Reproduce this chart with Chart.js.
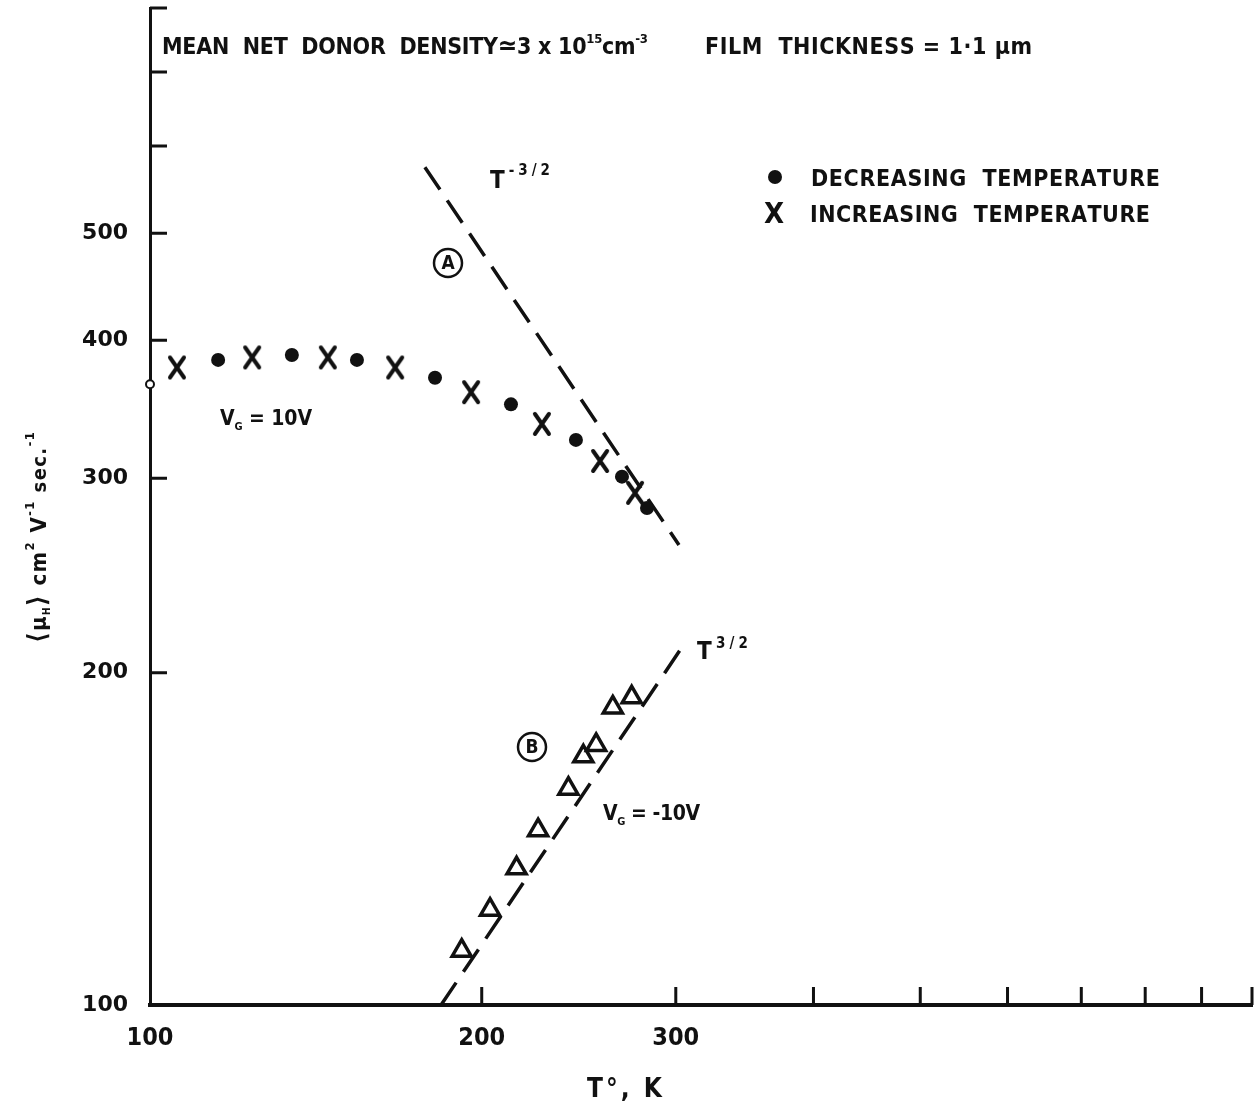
<!DOCTYPE html>
<html>
<head>
<meta charset="utf-8">
<title>Hall mobility vs temperature</title>
<script src="https://cdn.jsdelivr.net/npm/chart.js@4.4.1/dist/chart.umd.min.js"></script>
<style>
  html, body { margin: 0; padding: 0; background: #fff; }
  canvas { display: block; }
</style>
</head>
<body>
<canvas id="hall" width="1254" height="1111"></canvas>
<script>
// Hall mobility <mu_H> of the film against temperature, log-log
const INK = '#111';
const FACE = '"DejaVu Sans Condensed", "DejaVu Sans", sans-serif';

// V_G = 10V, decreasing temperature (filled dots)
const decT  = [115.3, 134.5, 154.1, 181.4, 212.6, 243.5, 268.1, 282.5];
const decMu = [384, 388, 384, 370, 350, 325, 301, 282];
// first reading, on the axis (small open circle)
const startT  = [100];
const startMu = [365];
// V_G = 10V, increasing temperature (crosses)
const incT  = [105.8, 123.8, 145.0, 166.9, 195.6, 226.8, 256.1, 275.5];
const incMu = [378, 386, 386, 378, 359, 336, 311, 291];
// V_G = -10V (triangles)
const negT  = [191.8, 203.5, 215.1, 225.0, 239.7, 247.3, 254.0, 263.0, 273.6];
const negMu = [112, 122, 133, 144, 157, 168, 172, 186, 190];
// guide lines: (A) T^-3/2 and (B) T^3/2
const fitAT  = [177.6, 302];
const fitAMu = [574, 261];
const fitBT  = [183.7, 305];
const fitBMu = [100, 212];

const xTicks  = [100, 200, 300, 400, 500, 600, 700, 800, 900, 1000];
const xLabels = [100, 200, 300];
const yTicks  = [100, 200, 300, 400, 500, 600, 700, 800];
const yLabels = [100, 200, 300, 400, 500];

const pts = (xs, ys) => xs.map((x, i) => ({ x, y: ys[i] }));
const font = (size) => `bold ${size}px ${FACE}`;

// hand-lettered X used for the increasing-temperature points
function crossMark() {
  const c = document.createElement('canvas');
  c.width = 22; c.height = 26;
  const g = c.getContext('2d');
  g.strokeStyle = INK; g.lineWidth = 4; g.lineCap = 'round';
  g.beginPath();
  g.moveTo(4, 3); g.lineTo(18, 23);
  g.moveTo(18, 3); g.lineTo(4, 23);
  g.stroke();
  return c;
}

// lay out text pieces (text, size, baseline shift) spread over a given width
function runs(ctx, parts, left, base, width) {
  const chars = [];
  parts.forEach(([t, size, shift = 0]) => {
    ctx.font = font(size);
    for (const ch of t) chars.push({ ch, size, shift, w: ctx.measureText(ch).width });
  });
  const natural = chars.reduce((s, c) => s + c.w, 0);
  const gap = width ? (width - natural) / (chars.length - 1) : 0;
  let x = left;
  chars.forEach(c => {
    ctx.font = font(c.size);
    ctx.fillText(c.ch, x, base + c.shift);
    x += c.w + gap;
  });
}

function circled(ctx, letter, cx, cy) {
  ctx.save();
  ctx.lineWidth = 2.5;
  ctx.beginPath(); ctx.arc(cx, cy, 14, 0, Math.PI * 2); ctx.stroke();
  ctx.font = font(19);
  ctx.textAlign = 'center'; ctx.textBaseline = 'middle';
  ctx.fillText(letter, cx, cy + 1);
  ctx.restore();
}

// tick marks drawn inward from both axes
const innerTicks = {
  id: 'innerTicks',
  afterDraw(chart) {
    const { ctx, chartArea, scales: { x, y } } = chart;
    ctx.save();
    ctx.strokeStyle = INK; ctx.lineWidth = 3;
    ctx.beginPath();
    xTicks.slice(1).forEach(v => {
      const px = x.getPixelForValue(v);
      ctx.moveTo(px, chartArea.bottom); ctx.lineTo(px, chartArea.bottom - 18);
    });
    yTicks.slice(1).forEach(v => {
      const py = y.getPixelForValue(v);
      ctx.moveTo(chartArea.left, py); ctx.lineTo(chartArea.left + 17, py);
    });
    ctx.stroke();
    ctx.restore();
  }
};

const notes = {
  id: 'notes',
  afterDraw(chart) {
    const ctx = chart.ctx;
    ctx.save();
    ctx.fillStyle = INK; ctx.strokeStyle = INK;
    ctx.textAlign = 'left'; ctx.textBaseline = 'alphabetic';

    runs(ctx, [['MEAN  NET  DONOR  DENSITY', 23], ['\u2243', 26], ['3 x 10', 23], ['15', 13, -11], ['cm', 23], ['-3', 13, -11]], 162, 54, 486);
    runs(ctx, [['FILM  THICKNESS = 1\u00b71 \u03bcm', 23]], 705, 54, 327);

    // legend
    ctx.beginPath(); ctx.arc(775, 177, 7, 0, Math.PI * 2); ctx.fill();
    runs(ctx, [['DECREASING  TEMPERATURE', 23]], 811, 186, 349);
    runs(ctx, [['X', 29]], 764, 223, 0);
    runs(ctx, [['INCREASING  TEMPERATURE', 23]], 810, 222, 340);

    // slope labels
    runs(ctx, [['T', 24], ['-3/2', 15, -13]], 490, 188, 60);
    runs(ctx, [['T', 24], ['3/2', 15, -11]], 697, 659, 51);
    circled(ctx, 'A', 448, 263);
    circled(ctx, 'B', 532, 747);

    // gate voltages
    runs(ctx, [['V', 21], ['G', 11, 5], [' = 10V', 21]], 220, 425, 92);
    runs(ctx, [['V', 21], ['G', 11, 5], [' = -10V', 21]], 603, 820, 97);

    // axis titles
    runs(ctx, [['T\u00b0, K', 26]], 587, 1097, 75);
    ctx.translate(46, 643);
    ctx.rotate(-Math.PI / 2);
    runs(ctx, [['\u27e8', 26], ['\u03bc', 22], ['H', 10, 4], ['\u27e9', 26], [' cm', 22], ['2', 13, -12],
               [' V', 22], ['-1', 13, -12], [' sec.', 20], ['-1', 13, -12]], 0, 0, 211);
    ctx.restore();
  }
};

new Chart(document.getElementById('hall'), {
  type: 'scatter',
  data: {
    datasets: [
      {
        label: 'Decreasing temperature',
        data: pts(decT, decMu),
        pointStyle: 'circle', pointRadius: 7,
        backgroundColor: INK, borderColor: INK, borderWidth: 0
      },
      {
        label: 'Start',
        data: pts(startT, startMu),
        pointStyle: 'circle', pointRadius: 4,
        backgroundColor: '#fff', borderColor: INK, borderWidth: 2,
        clip: false
      },
      {
        label: 'Increasing temperature',
        data: pts(incT, incMu),
        pointStyle: crossMark(), pointRadius: 11
      },
      {
        label: 'V_G = -10V',
        data: pts(negT, negMu),
        pointStyle: 'triangle', pointRadius: 11,
        backgroundColor: 'rgba(0,0,0,0)', borderColor: INK, borderWidth: 3.5
      },
      {
        label: 'T^-3/2',
        data: pts(fitAT, fitAMu),
        showLine: true, pointRadius: 0,
        borderColor: INK, borderWidth: 3.5, borderDash: [27, 13]
      },
      {
        label: 'T^3/2',
        data: pts(fitBT, fitBMu),
        showLine: true, pointRadius: 0,
        borderColor: INK, borderWidth: 3.5, borderDash: [27, 13]
      }
    ]
  },
  options: {
    responsive: false,
    animation: false,
    events: [],
    layout: { autoPadding: false, padding: { top: 8, right: 2, left: 0, bottom: 0 } },
    plugins: { legend: { display: false }, tooltip: { enabled: false } },
    scales: {
      x: {
        type: 'logarithmic', min: 100, max: 1000,
        afterBuildTicks: s => { s.ticks = xTicks.map(v => ({ value: v })); },
        afterFit: s => { s.height = 106; s.paddingLeft = 0; s.paddingRight = 0; },
        grid: { display: false, drawTicks: false },
        border: { color: INK, width: 4 },
        ticks: {
          autoSkip: false, maxRotation: 0, padding: 18, color: INK,
          font: { family: FACE, weight: 'bold', size: 25 },
          callback: v => xLabels.includes(v) ? String(v) : ''
        }
      },
      y: {
        type: 'logarithmic', min: 100, max: 800,
        afterBuildTicks: s => { s.ticks = yTicks.map(v => ({ value: v })); },
        afterFit: s => { s.width = 150; s.paddingTop = 0; s.paddingBottom = 0; },
        grid: { display: false, drawTicks: false },
        border: { color: INK, width: 3 },
        ticks: {
          autoSkip: false, padding: 22, color: INK,
          font: { family: '"DejaVu Sans", sans-serif', weight: 'bold', size: 22 },
          callback: v => yLabels.includes(v) ? String(v) : ''
        }
      }
    }
  },
  plugins: [innerTicks, notes]
});
</script>
</body>
</html>
